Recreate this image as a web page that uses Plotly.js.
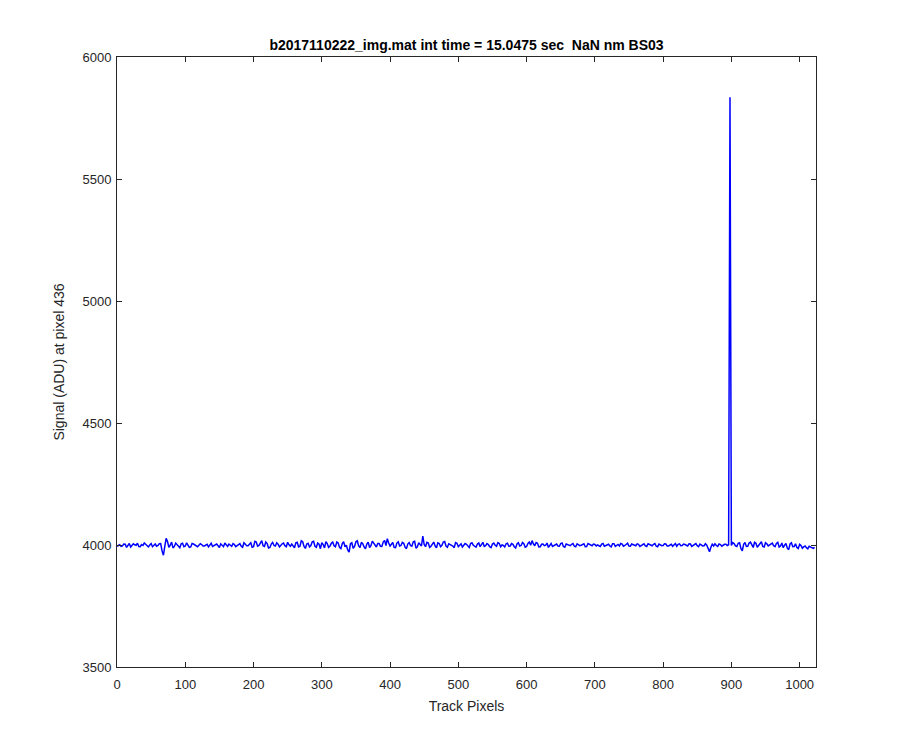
<!DOCTYPE html>
<html>
<head>
<meta charset="utf-8">
<script src="https://cdn.plot.ly/plotly-3.0.1.min.js"></script>
<style>html,body{margin:0;padding:0;background:#fff;}#chart{width:900px;height:750px;}</style>
</head>
<body>
<div id="chart"></div>
<script>
// Signal read at track pixels 0, 4, 8, ... 1020
const signalA = [
  3995,4001,3996,4003,3998,3992,4005,3999,3994,4002,4008,3997,4000,3993,4004,3998,
  4006,3958,4027,3990,4012,3994,4003,3989,4007,3996,4001,3992,4004,3997,3999,4002,
  3996,4003,3999,3994,4001,3997,4005,3993,4000,4004,3995,4002,3998,4006,3991,4003,
  3997,4009,3993,4012,3998,4018,3994,4006,3990,4011,3996,4003,3999,4008,3993,4001,
  4004,3989,4011,3995,4013,3986,4007,3998,4015,3991,4003,4010,3988,4006,3996,4012,
  3993,4008,3985,4014,3999,3971,4009,3994,4017,3990,4005,3984,4012,3997,4008,3992,
  4006,3994,4019,4026,3996,4011,3989,4013,3998,4007,3985,4010,3995,4015,3992,4004,
  4036,3993,4008,3995,4012,3988,4006,3999,4014,3991,4003,3996,4010,3993,4005,3998,
  4003,3990,4009,3996,4004,3993,4011,3997,4002,3989,4008,3995,4006,4000,3992,4007,
  3996,4003,3988,4009,3998,4005,3994,4012,4018,3997,4007,3993,4004,3999,3990,4006,
  3998,4004,3995,4008,3991,4002,3997,4006,3993,4001,3999,4005,3994,4003,3997,4002,
  4000,3994,4006,3998,4003,3992,4005,3999,3996,4004,3998,4007,3995,4001,3997,4003,
  3999,4005,3994,4002,3997,4006,3993,4001,3998,4004,3996,4003,3999,3995,4005,3998,
  4002,3996,4004,3999,4006,3993,4001,3997,3999,3972,4003,4005,3994,4002,3999,4003,
  4001,3998,4006,3994,4009,3976,4010,3995,4012,3990,4007,3997,4013,3992,4005,3999,
  4008,3993,4011,3996,3989,4006,3981,4009,3994,3990,4003,3987,3996,3984,3992,3986
];
// Signal read at track pixels 2, 6, 10, ... 1022 (pixel 898 is the spike)
const signalB = [
  3999,3994,4004,3990,4006,3997,4001,4007,3993,3998,4003,3992,4006,3999,3995,4005,
  3976,3994,4014,3999,3988,4008,3996,4005,3993,4009,3990,4006,3999,3993,4005,3996,
  4001,3992,4007,3998,4004,3990,4000,4008,3994,3999,4006,3993,4004,3995,4009,3997,
  4004,3991,4015,3995,4008,3997,4012,3988,4004,3998,4009,3992,4005,3997,4011,3995,
  3996,4009,3992,4017,3994,4004,3992,4013,3995,4008,3985,4002,4014,3990,4007,3997,
  4012,3990,4006,3993,3980,4005,3986,4013,3996,4011,3992,4004,3990,4016,3995,4006,
  3995,4012,3998,4008,4003,3990,4008,3996,4011,3991,4004,3998,4013,3987,4009,3996,
  4002,4011,3990,4006,3996,4009,3993,4012,3996,4005,4001,3989,4007,3999,3992,4006,
  3995,4006,3999,3991,4008,4001,3994,4006,3993,4004,3999,4010,3993,3998,4005,3995,
  4006,3993,4004,3996,4010,3991,4006,3999,4005,4010,3992,4003,3997,4008,3998,3994,
  4002,3996,4006,3994,4004,3997,4003,3995,4005,3997,4003,3993,4006,3998,4004,3996,
  3997,4004,3995,4003,3996,4005,3994,4002,4006,3995,4003,3996,4004,3999,4005,3994,
  4003,3996,4005,3998,4003,3995,4004,3997,4005,3996,4001,3995,4006,4003,3997,4004,
  3998,4005,3994,4003,3997,4004,3996,4005,3983,3991,3996,3998,4004,3995,4003,3998,
  5835,4010,3996,4007,3986,4003,3994,4008,3997,4011,3991,4004,3994,4009,3996,4004,
  3997,4006,3992,4008,3999,3987,4004,3993,4005,3986,3998,3992,3989,3995,3986,3990
];
const pixelStep = 4;
const offsetA = 0;
const offsetB = 2;

const xTickVals = [0,100,200,300,400,500,600,700,800,900,1000];
const yTickVals = [3500,4000,4500,5000,5500,6000];

const pts = [];
signalA.forEach((v, i) => pts.push([offsetA + i * pixelStep, v]));
signalB.forEach((v, i) => pts.push([offsetB + i * pixelStep, v]));
pts.sort((a, b) => a[0] - b[0]);
const pixels = pts.map(p => p[0]);
const signal = pts.map(p => p[1]);

const axisCol = '#262626';
const fam = 'Liberation Sans, Arial, Helvetica, sans-serif';
const tickFont = {family: fam, size: 13, color: axisCol};
const labFont = {family: fam, size: 14, color: axisCol};

Plotly.newPlot('chart', [{
  x: pixels, y: signal, type: 'scatter', mode: 'lines',
  line: {color: '#0000ff', width: 1.5}, hoverinfo: 'skip'
}], {
  width: 900, height: 750,
  margin: {l: 117, r: 84, t: 57, b: 83},
  paper_bgcolor: '#ffffff', plot_bgcolor: '#ffffff',
  font: tickFont,
  showlegend: false,
  title: {text: '<b>b2017110222_img.mat int time = 15.0475 sec  NaN nm BS03</b>',
          font: {family: fam, size: 14, color: '#000'},
          x: 0.5, xanchor: 'center', xref: 'paper', y: 0.94, yanchor: 'middle'},
  xaxis: {
    range: [0, 1024], tickvals: xTickVals, ticks: 'inside', ticklen: 5, tickcolor: axisCol,
    showline: true, linecolor: axisCol, linewidth: 1, mirror: 'ticks', showgrid: false, zeroline: false,
    tickfont: tickFont, ticklabelstandoff: 5,
    title: {text: 'Track Pixels', font: labFont, standoff: 10}
  },
  yaxis: {
    range: [3500, 6000], tickvals: yTickVals, ticks: 'inside', ticklen: 5, tickcolor: axisCol,
    showline: true, linecolor: axisCol, linewidth: 1, mirror: 'ticks', showgrid: false, zeroline: false,
    tickfont: tickFont, ticklabelstandoff: 2,
    title: {text: 'Signal (ADU) at pixel 436', font: labFont, standoff: 14}
  }
}, {staticPlot: true});
</script>
</body>
</html>
